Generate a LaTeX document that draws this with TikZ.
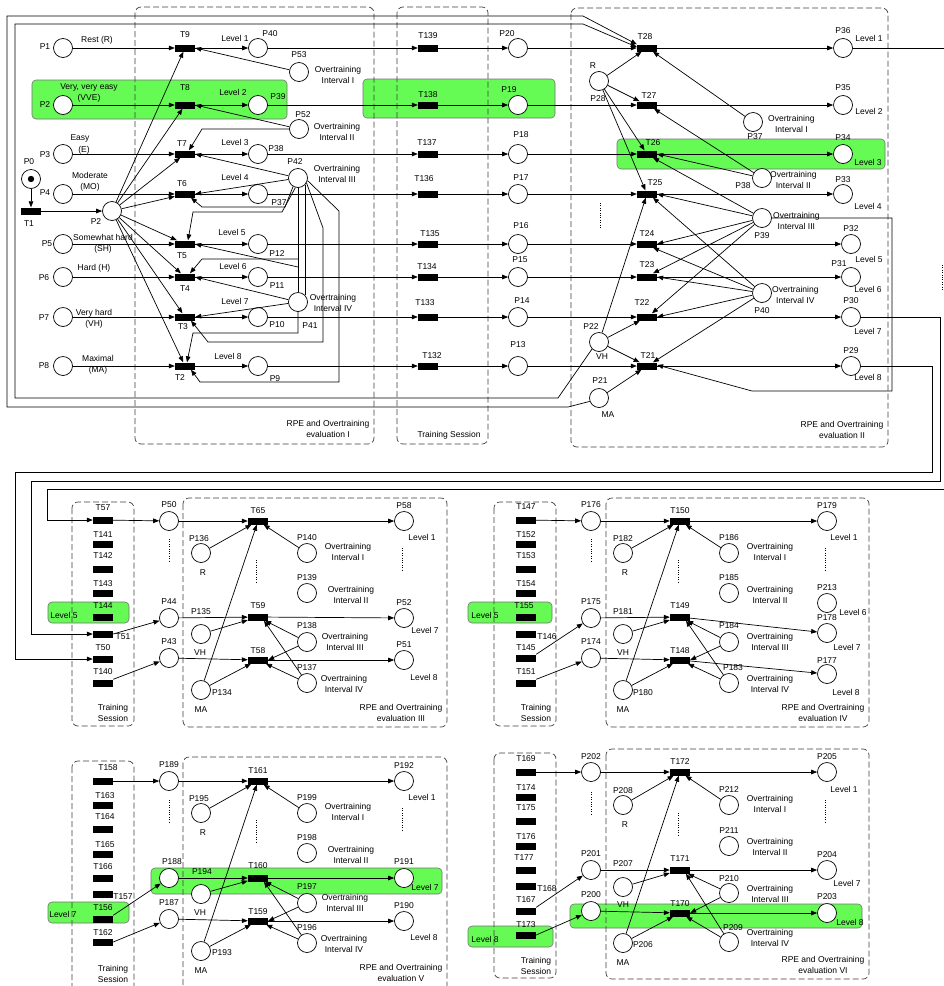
\documentclass[tikz,border=0pt]{standalone}
\usepackage{fontspec}
\setmainfont{Liberation Sans}
\usetikzlibrary{arrows.meta}
\definecolor{grn}{RGB}{102,250,85}
\pgfdeclarelayer{bg}
\pgfsetlayers{bg,main}
\newcommand\lbfont{\fontsize{8.5}{11}\selectfont}
\newcommand\mkP[6]{\node[pl] (#1) at (#2,#3) {}; \node[lb] at (#5,#6) {#4};}
\newcommand\mkT[6]{\node[tr] (#1) at (#2,#3) {}; \node[lb] at (#5,#6) {#4};}
\newcommand\mkX[3]{\node[lb] at (#1,#2) {#3};}
\begin{document}
\begin{tikzpicture}[x=1pt,y=-1pt,
  pl/.style={circle,draw=black,line width=0.7pt,fill=white,minimum size=19pt,inner sep=0pt},
  tr/.style={rectangle,fill=black,draw=none,minimum width=20pt,minimum height=7pt,inner sep=0pt},
  lb/.style={font=\lbfont,inner sep=0pt,align=center},
  ar/.style={line width=0.7pt,-{Triangle[length=6pt,width=4.6pt]}},
  ln/.style={line width=0.7pt},
  dbox/.style={draw=black!75,line width=0.7pt,dash pattern=on 6pt off 3pt,rounded corners=6pt},
  gbox/.style={fill=grn,draw=black!55,line width=0.6pt,rounded corners=4pt},
  dotln/.style={line width=0.7pt,dash pattern=on 1pt off 1.4pt}]
\useasboundingbox (0,0) rectangle (944,986);
\begin{pgfonlayer}{bg}
\fill[white] (0,0) rectangle (944,986);
\draw[gbox] (32,80) rectangle (287,119);
\draw[gbox] (363,79) rectangle (555,118);
\draw[gbox] (617,139) rectangle (885,169);
\draw[gbox] (48,602) rectangle (129,623);
\draw[gbox] (468,602) rectangle (552,623);
\draw[gbox] (48,902) rectangle (129,923);
\draw[gbox] (151,868) rectangle (442,894);
\draw[gbox] (468,926) rectangle (553,947);
\draw[gbox] (570,904) rectangle (862,928);
\draw[dbox] (135,7) rectangle (374,444);
\draw[dbox] (397,7) rectangle (488,444);
\draw[dbox] (571,8) rectangle (888,447);
\draw[dbox] (72,502) rectangle (134,726);
\draw[dbox] (183,498) rectangle (447,727);
\draw[dbox] (494,502) rectangle (556,726);
\draw[dbox] (606,498) rectangle (869,727);
\draw[dbox] (72,761) rectangle (134,998);
\draw[dbox] (183,757) rectangle (447,998);
\draw[dbox] (494,753) rectangle (556,978);
\draw[dbox] (606,749) rectangle (869,979);
\end{pgfonlayer}
% ---------- Section I ----------
\mkP{P1}{63}{48}{P1}{45}{47}
\mkP{P2}{63}{105}{P2}{45}{105}
\mkP{P3}{63}{154}{P3}{45}{155}
\mkP{P4}{63}{194}{P4}{45}{193}
\mkP{P5}{63}{244}{P5}{47}{244}
\mkP{P6}{63}{277}{P6}{44}{278}
\mkP{P7}{63}{317}{P7}{44}{318}
\mkP{P8}{63}{366}{P8}{44}{366}
\mkX{97}{40}{Rest (R)}
\mkX{89}{93}{Very, very easy\\(VVE)}
\mkX{80}{138}{Easy}
\mkX{84}{150}{(E)}
\mkX{90}{182}{Moderate\\(MO)}
\mkX{103}{244}{Somewhat hard\\(SH)}
\mkX{94}{268}{Hard (H)}
\mkX{94}{318.5}{Very hard\\(VH)}
\mkX{98}{365}{Maximal\\(MA)}
\mkP{P0}{31}{179}{P0}{29}{162}
\fill (P0) circle (3.2);
\mkT{T1}{31}{211}{T1}{29}{224}
\mkP{P2b}{112}{211}{P2}{96}{222}
\mkT{T9}{185}{48}{T9}{185}{35}
\mkT{T8}{185}{105}{T8}{185}{88}
\mkT{T7}{185}{154}{T7}{182}{144}
\mkT{T6}{185}{194}{T6}{182}{184}
\mkT{T5}{185}{244}{T5}{182}{256}
\mkT{T4}{185}{277}{T4}{185}{289}
\mkT{T3}{185}{317}{T3}{183}{327}
\mkT{T2}{185}{366}{T2}{180}{378}
\mkP{P40}{258}{48}{P40}{270}{34}
\mkP{P39}{258}{105}{P39}{278}{97}
\mkP{P38}{258}{154}{P38}{276}{149}
\mkP{P37}{258}{194}{P37}{279}{203}
\mkP{P12}{258}{244}{P12}{277}{254}
\mkP{P11}{258}{277}{P11}{277}{286}
\mkP{P10}{258}{317}{P10}{277}{325}
\mkP{P9}{258}{366}{P9}{275}{379}
\mkX{235}{38}{Level 1}
\mkX{233}{92}{Level 2}
\mkX{235}{142}{Level 3}
\mkX{235}{177}{Level 4}
\mkX{232}{232}{Level 5}
\mkX{233}{266}{Level 6}
\mkX{235}{301}{Level 7}
\mkX{228}{356}{Level 8}
\mkP{P53}{299}{72}{P53}{299}{55}
\mkP{P52}{299}{129}{P52}{303}{115}
\mkP{P42}{298}{178}{P42}{295}{162}
\mkP{P41}{298}{302}{P41}{310}{326}
\mkX{338}{74.5}{Overtraining\\Interval I}
\mkX{337}{131.5}{Overtraining\\Interval II}
\mkX{337}{173.5}{Overtraining\\Interval III}
\mkX{333}{302.5}{Overtraining\\Interval IV}
\mkX{328}{429}{RPE and Overtraining\\evaluation I}
% training session I
\mkT{T139}{428}{48}{T139}{428}{36}
\mkT{T138}{428}{105}{T138}{428}{95}
\mkT{T137}{428}{154}{T137}{427}{143}
\mkT{T136}{428}{194}{T136}{424}{179}
\mkT{T135}{428}{244}{T135}{430}{234}
\mkT{T134}{428}{277}{T134}{427}{267}
\mkT{T133}{428}{317}{T133}{425}{303}
\mkT{T132}{428}{366}{T132}{432}{356}
\mkP{P20}{518}{48}{P20}{507}{34}
\mkP{P19}{518}{105}{P19}{509}{90}
\mkP{P18}{518}{154}{P18}{521}{135}
\mkP{P17}{518}{194}{P17}{521}{178}
\mkP{P16}{518}{244}{P16}{521}{226}
\mkP{P15}{518}{277}{P15}{520}{260}
\mkP{P14}{518}{317}{P14}{522}{301}
\mkP{P13}{518}{366}{P13}{518}{345}
\mkX{449}{435}{Training Session}
% ---------- Section II ----------
\mkT{T28}{647}{48}{T28}{645}{37}
\mkT{T27}{647}{105}{T27}{649}{96}
\mkT{T26}{647}{154}{T26}{653}{143}
\mkT{T25}{647}{194}{T25}{655}{183}
\mkT{T24}{647}{244}{T24}{647}{234}
\mkT{T23}{647}{277}{T23}{647}{265}
\mkT{T22}{647}{317}{T22}{642}{303}
\mkT{T21}{647}{366}{T21}{648}{356}
\mkP{P36}{843}{48}{P36}{843}{31}
\mkP{P35}{843}{105}{P35}{843}{88}
\mkP{P34}{843}{154}{P34}{843}{138}
\mkP{P33}{843}{194}{P33}{843}{180}
\mkP{P32}{851}{244}{P32}{851}{229}
\mkP{P31}{851}{277}{P31}{839}{264}
\mkP{P30}{851}{317}{P30}{851}{301}
\mkP{P29}{851}{366}{P29}{851}{351}
\mkX{869}{38}{Level 1}
\mkX{869}{111}{Level 2}
\mkX{868}{162}{Level 3}
\mkX{868}{206}{Level 4}
\mkX{869}{259}{Level 5}
\mkX{868}{289}{Level 6}
\mkX{868}{331}{Level 7}
\mkX{868}{377}{Level 8}
\mkP{P28}{599}{81}{R}{593}{66}
\mkX{598}{99}{P28}
\mkP{Q37}{753}{122}{P37}{755}{137}
\mkP{Q38}{762}{178}{P38}{743}{186}
\mkP{Q39}{762}{218}{P39}{762}{236}
\mkP{Q40}{762}{293}{P40}{762}{311}
\node[lb,anchor=west] at (768,123.5) {Overtraining\\Interval I};
\node[lb,anchor=west] at (770,179.5) {Overtraining\\Interval II};
\node[lb,anchor=west] at (773,220.5) {Overtraining\\Interval III};
\node[lb,anchor=west] at (772,294.5) {Overtraining\\Interval IV};
\mkP{P22}{599}{342}{P22}{591}{327}
\mkX{602}{357}{VH}
\mkP{P21}{599}{398}{P21}{600}{381}
\mkX{608}{415}{MA}
\mkX{842}{430}{RPE and Overtraining\\evaluation II}
% row connections
\foreach \a/\b/\c/\d/\e/\f/\g in {P1/T9/P40/T139/P20/T28/P36, P2/T8/P39/T138/P19/T27/P35, P3/T7/P38/T137/P18/T26/P34, P4/T6/P37/T136/P17/T25/P33, P5/T5/P12/T135/P16/T24/P32, P6/T4/P11/T134/P15/T23/P31, P7/T3/P10/T133/P14/T22/P30, P8/T2/P9/T132/P13/T21/P29}
{\draw[ar] (\a) -- (\b); \draw[ar] (\b) -- (\c); \draw[ar] (\c) -- (\d); \draw[ar] (\d) -- (\e); \draw[ar] (\e) -- (\f); \draw[ar] (\f) -- (\g);}
\draw[ln] (P36) -- (944,48);
\draw[ar] (P0) -- (T1);
\draw[ar] (T1) -- (P2b);
\foreach \t in {T9,T8,T7,T6,T5,T4,T3,T2} {\draw[ar] (P2b) -- (\t);}
% overtraining I
\draw[ar] (P53) -- (T9.east);
\draw[ar] (P52) -- (T8.east);
\draw[ar] (P52.west) -- (202,129) -- ([xshift=4pt]T7.north);
\draw[ar] (P42) -- (T7.east);
\draw[ar] (P42) -- (T6.east);
\draw[ar] (P42.-120) -- (285,207) -- (202,207) -- ([xshift=6pt]T6.south);
\draw[ar] (P42.-105) -- (282,212) -- (193,212) -- ([xshift=3pt]T5.north);
\draw[ln] (P42.south) -- (P41.north);
\draw[ar] (298,259) -- (202,259) -- ([xshift=5pt]T4.north);
\draw[ar] (298,267) -- (T5.east);
\draw[ln] (P42.-45) -- (P41.45);
\draw[ar] (P42.-30) -- (323,228) -- (323,342) -- (208,342) -- ([xshift=6pt]T3.south);
\draw[ar] (P42.-15) -- (339,211) -- (339,382) -- (200,382) -- ([xshift=6pt]T2.south);
\draw[ar] (P41) -- (T4.east);
\draw[ar] (P41) -- (T3.east);
\draw[ar] (P41.south) -- (298,333) -- (193,333) -- ([xshift=2pt]T2.north);
% section II connections
\foreach \t in {T28,T27,T26,T25} {\draw[ar] (P28) -- (\t);}
\draw[ar] (Q37) -- ([xshift=6pt]T28.south);
\draw[ar] (Q38) -- ([xshift=7pt]T27.south);
\draw[ar] (Q38) -- (T26.east);
\draw[ar] (Q39) -- ([xshift=6pt]T26.south);
\draw[ar] (Q39) -- (T25.east);
\draw[ar] (Q39) -- (T24.east);
\draw[ar] (Q39) -- ([xshift=6pt]T23.north);
\draw[ar] (Q39) -- ([xshift=5pt]T22.north);
\draw[ar] (Q40) -- ([xshift=6pt]T25.south);
\draw[ar] (Q40) -- ([xshift=6pt]T24.south);
\draw[ar] (Q40) -- (T23.east);
\draw[ar] (Q40) -- (T22.east);
\draw[ar] (Q40) -- ([xshift=6pt]T21.north);
\draw[ar] (P22) -- (T25);
\draw[ar] (P22) -- (T22);
\draw[ar] (P22) -- (T21);
\draw[ar] (P21) -- (T21);
\draw[ar] (Q39.east) -- (892,218) -- (892,391) -- (752,391) -- ([yshift=1pt]T21.east);
\draw[ar] (P21.200) -- (568,407) -- (7,407) -- (7,16) -- (583,16) -- (T28.north west);
\draw[ar] (P22.225) -- (558,398) -- (15,398) -- (15,24) -- (583,24) -- ([yshift=1pt]T28.west);
\draw[dotln] (600,203) -- (600,228);
\draw[dotln] (942,265) -- (942,290);
% ---------- Panel III ----------
\mkT{T57}{103}{520}{T57}{103}{508}
\mkT{T141}{103}{544}{T141}{103}{535}
\mkT{T142}{103}{569}{T142}{103}{556}
\mkT{T143}{103}{593}{T143}{103}{584}
\mkT{T144}{103}{617}{T144}{103}{606}
\mkT{T51}{103}{634}{T51}{123}{637}
\mkT{T50}{103}{659}{T50}{103}{648}
\mkT{T140}{103}{683}{T140}{103}{672}
\mkX{64}{615}{Level 5}
\mkX{113}{713}{Training\\Session}
\mkP{P50}{169}{521}{P50}{169}{505}
\mkP{P44}{169}{618}{P44}{169}{602}
\mkP{P43}{169}{658}{P43}{169}{642}
\draw[dotln] (169,539) -- (169,562);
\mkT{T65}{258}{521}{T65}{258}{511}
\mkT{T59}{258}{617}{T59}{258}{606}
\mkT{T58}{258}{660}{T58}{258}{651}
\mkP{P58}{404}{521}{P58}{404}{506}
\mkX{422}{537}{Level 1}
\draw[dotln] (402,548) -- (402,570);
\mkP{P52c}{404}{618}{P52}{404}{603}
\mkX{425}{630}{Level 7}
\mkP{P51}{404}{660}{P51}{404}{645}
\mkX{424}{677}{Level 8}
\mkP{P136}{201}{553}{P136}{199}{539}
\mkX{203}{573}{R}
\mkP{P135}{201}{634}{P135}{201}{612}
\mkX{200}{653}{VH}
\mkP{P134}{201}{690}{P134}{222}{693}
\mkX{201}{710}{MA}
\mkP{P140}{307}{553}{P140}{307}{538}
\mkX{348}{551.5}{Overtraining\\Interval I}
\mkP{P139}{307}{593}{P139}{307}{578}
\mkX{351}{594.5}{Overtraining\\Interval II}
\mkP{P138}{307}{642}{P138}{307}{626}
\mkX{345}{641.5}{Overtraining\\Interval III}
\mkP{P137}{307}{683}{P137}{307}{668}
\mkX{344}{683.5}{Overtraining\\Interval IV}
\draw[dotln] (256,560) -- (256,583);
\mkX{401}{712.5}{RPE and Overtraining\\evaluation III}
\draw[ar] (P30) -- (940,317) -- (940,481) -- (31,481) -- (31,634) -- (T51);
\draw[ar] (P29) -- (932,366) -- (932,472) -- (15,472) -- (15,659) -- (T50);
\draw[ar] (944,489) -- (47,489) -- (47,520) -- (T57);
\draw[ar] (T57) -- (P50); \draw[ar] (P50) -- (T65); \draw[ar] (T65) -- (P58);
\draw[ar] (P136) -- (T65); \draw[ar] (P140) -- (T65); \draw[ar] (P134) -- (T65);
\draw[ar] (T51.east) -- (P44); \draw[ar] (P44) -- (T59); \draw[ar] (T59) -- (P52c);
\draw[ar] (P135) -- (T59); \draw[ar] (P138) -- (T59); \draw[ar] (P137) -- ([xshift=6pt]T59.south);
\draw[ar] (T140.north east) -- (P43); \draw[ar] (P43) -- (T58); \draw[ar] (T58) -- (P51);
\draw[ar] (P134) -- (T58); \draw[ar] (P138) -- (T58.east); \draw[ar] (P137) -- (T58);
% ---------- Panel IV ----------
\mkT{T147}{526}{520}{T147}{526}{507}
\mkT{T152}{526}{544}{T152}{526}{535}
\mkT{T153}{526}{569}{T153}{526}{556}
\mkT{T154}{526}{593}{T154}{526}{584}
\mkT{T155}{526}{617}{T155}{524}{606}
\mkT{T146}{526}{634}{T146}{547}{637}
\mkT{T145}{526}{658}{T145}{526}{648}
\mkT{T151}{526}{683}{T151}{526}{672}
\mkX{485}{615}{Level 5}
\mkX{536}{713}{Training\\Session}
\mkP{P176}{591}{521}{P176}{591}{505}
\mkP{P175}{591}{618}{P175}{591}{602}
\mkP{P174}{591}{658}{P174}{591}{642}
\draw[dotln] (591,539) -- (591,562);
\mkT{T150}{680}{521}{T150}{680}{511}
\mkT{T149}{680}{617}{T149}{680}{606}
\mkT{T148}{680}{660}{T148}{680}{651}
\mkP{P179}{827}{521}{P179}{827}{506}
\mkX{844}{537}{Level 1}
\draw[dotln] (825,548) -- (825,570);
\mkP{P213}{827}{603}{P213}{827}{588}
\mkX{853}{612}{Level 6}
\mkP{P178}{827}{633}{P178}{827}{618}
\mkX{847}{647}{Level 7}
\mkP{P177}{827}{674}{P177}{827}{661}
\mkX{846}{692}{Level 8}
\mkP{P182}{623}{553}{P182}{623}{539}
\mkX{625}{573}{R}
\mkP{P181}{623}{634}{P181}{623}{612}
\mkX{623}{653}{VH}
\mkP{P180}{623}{690}{P180}{643}{693}
\mkX{623}{710}{MA}
\mkP{P186}{729}{553}{P186}{729}{538}
\mkX{770}{551.5}{Overtraining\\Interval I}
\mkP{P185}{729}{593}{P185}{729}{578}
\mkX{770}{594.5}{Overtraining\\Interval II}
\mkP{P184}{729}{642}{P184}{729}{626}
\mkX{770}{641.5}{Overtraining\\Interval III}
\mkP{P183}{729}{683}{P183}{733}{668}
\mkX{770}{683.5}{Overtraining\\Interval IV}
\draw[dotln] (678,560) -- (678,583);
\mkX{823}{712.5}{RPE and Overtraining\\evaluation IV}
\draw[ar] (T147) -- (P176); \draw[ar] (P176) -- (T150); \draw[ar] (T150) -- (P179);
\draw[ar] (P182) -- (T150); \draw[ar] (P186) -- (T150); \draw[ar] (P180) -- (T150);
\draw[ar] (T145.north east) -- (P175); \draw[ar] (P175) -- (T149); \draw[ar] (T149) -- (P178);
\draw[ar] (P181) -- (T149); \draw[ar] (P184) -- (T149); \draw[ar] (P183) -- ([xshift=6pt]T149.south);
\draw[ar] (T151.north east) -- (P174); \draw[ar] (P174) -- (T148); \draw[ar] (T148) -- (P177);
\draw[ar] (P180) -- (T148); \draw[ar] (P184) -- (T148.east); \draw[ar] (P183) -- (T148);
% ---------- Panel V ----------
\mkT{T158}{103}{781}{T158}{108}{768}
\mkT{T163}{103}{805}{T163}{105}{796}
\mkT{T164}{103}{829}{T164}{105}{817}
\mkT{T165}{103}{854}{T165}{105}{845}
\mkT{T166}{103}{878}{T166}{103}{867}
\mkT{T157}{103}{894}{T157}{123}{897}
\mkT{T156}{103}{919}{T156}{103}{908}
\mkT{T162}{103}{942}{T162}{103}{933}
\mkX{63}{914}{Level 7}
\mkX{113}{973.5}{Training\\Session}
\mkP{P189}{169}{781}{P189}{169}{765}
\mkP{P188}{169}{878}{P188}{172}{862}
\mkP{P187}{169}{919}{P187}{169}{903}
\draw[dotln] (169,800) -- (169,822);
\mkT{T161}{258}{781}{T161}{258}{771}
\mkT{T160}{258}{878}{T160}{258}{866}
\mkT{T159}{258}{921}{T159}{258}{912}
\mkP{P192}{404}{781}{P192}{404}{766}
\mkX{422}{797}{Level 1}
\draw[dotln] (402,808) -- (402,830);
\mkP{P191}{404}{878}{P191}{404}{862}
\mkX{425}{887}{Level 7}
\mkP{P190}{404}{921}{P190}{404}{906}
\mkX{424}{937}{Level 8}
\mkP{P195}{201}{813}{P195}{199}{799}
\mkX{203}{833}{R}
\mkP{P194}{201}{894}{P194}{202}{872}
\mkX{200}{913}{VH}
\mkP{P193}{201}{951}{P193}{222}{953}
\mkX{201}{971}{MA}
\mkP{P199}{307}{813}{P199}{307}{798}
\mkX{348}{811.5}{Overtraining\\Interval I}
\mkP{P198}{307}{853}{P198}{307}{838}
\mkX{351}{854.5}{Overtraining\\Interval II}
\mkP{P197}{307}{903}{P197}{307}{887}
\mkX{345}{902.5}{Overtraining\\Interval III}
\mkP{P196}{307}{943}{P196}{307}{928}
\mkX{344}{943.5}{Overtraining\\Interval IV}
\draw[dotln] (256,820) -- (256,843);
\mkX{401}{973}{RPE and Overtraining\\evaluation V}
\draw[ar] (T158) -- (P189); \draw[ar] (P189) -- (T161); \draw[ar] (T161) -- (P192);
\draw[ar] (P195) -- (T161); \draw[ar] (P199) -- (T161); \draw[ar] (P193) -- (T161);
\draw[ar] (T156.north east) -- (P188); \draw[ar] (P188) -- (T160); \draw[ar] (T160) -- (P191);
\draw[ar] (P194) -- (T160); \draw[ar] (P197) -- (T160); \draw[ar] (P196) -- ([xshift=6pt]T160.south);
\draw[ar] (T162.east) -- (P187); \draw[ar] (P187) -- (T159); \draw[ar] (T159) -- (P190);
\draw[ar] (P193) -- (T159); \draw[ar] (P197) -- (T159.east); \draw[ar] (P196) -- (T159);
% ---------- Panel VI ----------
\mkT{T169}{526}{772}{T169}{526}{759}
\mkT{T174}{526}{797}{T174}{526}{788}
\mkT{T175}{526}{821}{T175}{526}{808}
\mkT{T176}{526}{846}{T176}{526}{837}
\mkT{T177}{526}{870}{T177}{524}{858}
\mkT{T168}{526}{886}{T168}{547}{889}
\mkT{T167}{526}{911}{T167}{526}{900}
\mkT{T173}{526}{935}{T173}{526}{925}
\mkX{485}{939}{Level 8}
\mkX{536}{965.5}{Training\\Session}
\mkP{P202}{591}{772}{P202}{591}{757}
\mkP{P201}{591}{870}{P201}{591}{854}
\mkP{P200}{591}{911}{P200}{591}{895}
\draw[dotln] (591,792) -- (591,814);
\mkT{T172}{680}{772}{T172}{680}{762}
\mkT{T171}{680}{870}{T171}{680}{859}
\mkT{T170}{680}{913}{T170}{680}{904}
\mkP{P205}{827}{772}{P205}{827}{757}
\mkX{844}{789}{Level 1}
\draw[dotln] (825,800) -- (825,822);
\mkP{P204}{827}{870}{P204}{827}{855}
\mkX{847}{883}{Level 7}
\mkP{P203}{827}{913}{P203}{827}{897}
\mkX{850}{922}{Level 8}
\mkP{P208}{623}{805}{P208}{623}{791}
\mkX{625}{825}{R}
\mkP{P207}{623}{887}{P207}{623}{864}
\mkX{623}{905}{VH}
\mkP{P206}{623}{943}{P206}{643}{945}
\mkX{623}{963}{MA}
\mkP{P212}{729}{805}{P212}{729}{790}
\mkX{770}{803.5}{Overtraining\\Interval I}
\mkP{P211}{729}{846}{P211}{729}{831}
\mkX{770}{846.5}{Overtraining\\Interval II}
\mkP{P210}{729}{893}{P210}{729}{879}
\mkX{770}{893.5}{Overtraining\\Interval III}
\mkP{P209}{729}{942}{P209}{733}{928}
\mkX{770}{937.5}{Overtraining\\Interval IV}
\draw[dotln] (678,813) -- (678,835);
\mkX{823}{964.5}{RPE and Overtraining\\evaluation VI}
\draw[ar] (T169) -- (P202); \draw[ar] (P202) -- (T172); \draw[ar] (T172) -- (P205);
\draw[ar] (P208) -- (T172); \draw[ar] (P212) -- (T172); \draw[ar] (P206) -- (T172);
\draw[ar] (T167.north east) -- (P201); \draw[ar] (P201) -- (T171); \draw[ar] (T171) -- (P204);
\draw[ar] (P207) -- (T171); \draw[ar] (P210) -- (T171); \draw[ar] (P209) -- ([xshift=6pt]T171.south);
\draw[ar] (T173.east) -- (P200); \draw[ar] (P200) -- (T170); \draw[ar] (T170) -- (P203);
\draw[ar] (P206) -- (T170); \draw[ar] (P210) -- (T170.east); \draw[ar] (P209) -- (T170);
\end{tikzpicture}
\end{document}
